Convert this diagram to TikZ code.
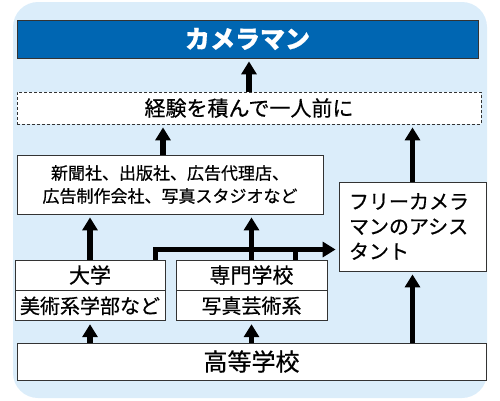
\documentclass[tikz,border=0pt]{standalone}
\usepackage{fontspec}
\setmainfont{Noto Sans CJK JP}[FakeBold = 0.6]
\usetikzlibrary{arrows.meta}
\usetikzlibrary{positioning}
\tikzset{arr/.style = {line width = 5.5pt, -{Triangle[width=15pt, length=13pt]},
                       shorten >= 3pt}}
\tikzset{box/.style = {draw = black!80, fill = white, line width = 0.8pt,
                       inner sep = 0, minimum height = 30pt}}
\definecolor{mblue}{rgb}{0.0, 0.4, 0.7}
\definecolor{mbg}{rgb}{0.86, 0.93, 0.98}

\begin{document}
\begin{tikzpicture}[x = 1pt, y = -1pt]
    \useasboundingbox (0, 0) rectangle (500, 400);
    \fill [mbg, rounded corners = 25pt] (13, 2) rectangle (487, 398);

    \node [box, fill = mblue, minimum width = 461pt, minimum height = 38pt, text = white,
           font = \bfseries\fontsize{25}{30}\selectfont] (title) at (247.5, 39) {カメラマン};
    \node [box, dashed, dash pattern = on 3pt off 2pt, minimum width = 464pt, minimum height = 32pt,
           font = \fontsize{21}{25}\selectfont] (exp) at (249, 108) {経験を積んで一人前に};

    \node [box, minimum width = 306pt, minimum height = 59pt, align = center,
           font = \fontsize{17}{23}\selectfont] (media) at (170, 184.5)
          {新聞社、出版社、広告代理店、\\広告制作会社、写真スタジオなど};
    \node [box, minimum width = 147pt, minimum height = 89pt, text width = 127pt, align = left,
           font = \fontsize{20}{25}\selectfont] (asst) at (412.5, 226.5)
          {フリーカメラ\\マンのアシス\\タント};

    \node [box, minimum width = 150pt, font = \fontsize{21}{25}\selectfont] (uni) at (90, 275) {大学};
    \node [box, minimum width = 150pt, font = \fontsize{20}{24}\selectfont, below = 0pt of uni] (unisub) {美術系学部など};
    \node [box, minimum width = 151pt, font = \fontsize{21}{25}\selectfont] (voc) at (251.5, 275) {専門学校};
    \node [box, minimum width = 151pt, font = \fontsize{20}{24}\selectfont, below = 0pt of voc] (vocsub) {写真芸術系};

    \node [box, minimum width = 469pt, minimum height = 37pt,
           font = \fontsize{24}{28}\selectfont] (hs) at (251.5, 361.5) {高等学校};

    \draw [arr] (exp.north) -- (exp.north |- title.south);
    \draw [arr] ([xshift = -7pt]media.north) -- ([xshift = -7pt]media.north |- exp.south);
    \draw [arr] (asst.north) -- (asst.north |- exp.south);

    \coordinate (j) at ([yshift = -23pt]asst.west);
    \draw [arr] ([xshift = -10pt]uni.north east) |- (j);
    \draw [line width = 5.5pt] ([xshift = -32pt]voc.north east) -- ([xshift = -32pt]voc.north east |- j);
    \draw [arr] (uni.north) -- (uni.north |- media.south);
    \draw [arr] (voc.north) -- (voc.north |- media.south);

    \draw [arr] (unisub.south |- hs.north) -- (unisub.south);
    \draw [arr] (vocsub.south |- hs.north) -- (vocsub.south);
    \draw [arr] (asst.south |- hs.north) -- (asst.south);
  \end{tikzpicture}
\end{document}
